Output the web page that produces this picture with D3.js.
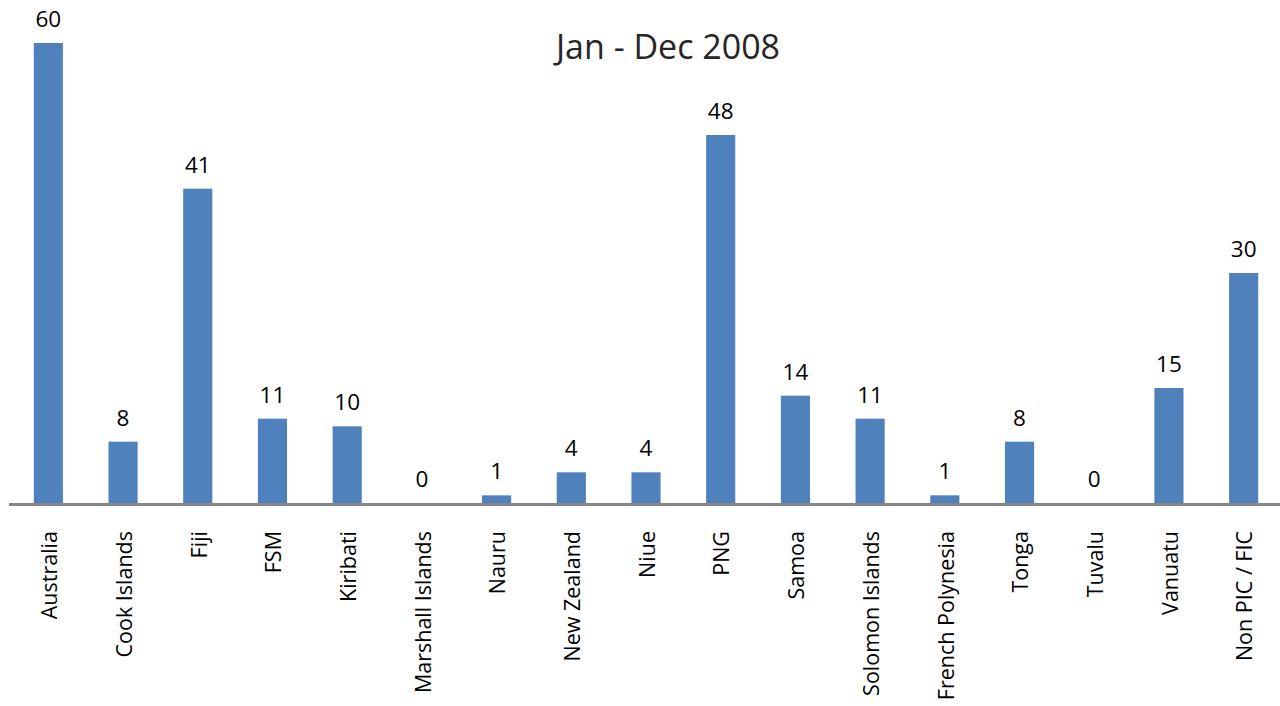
<!DOCTYPE html>
<html>
<head>
<meta charset="utf-8">
<script src="https://cdn.jsdelivr.net/npm/d3@7"></script>
<style>
  body { margin: 0; background: #fff; }
  svg { display: block; font-family: "Open Sans", sans-serif; }
</style>
</head>
<body>
<div id="chart"></div>
<script>
"use strict";

var title = "Jan - Dec 2008";

var countries = [
    "Australia", "Cook Islands", "Fiji", "FSM", "Kiribati", "Marshall Islands",
    "Nauru", "New Zealand", "Niue", "PNG", "Samoa", "Solomon Islands",
    "French Polynesia", "Tonga", "Tuvalu", "Vanuatu", "Non PIC / FIC"
];

var counts = [60, 8, 41, 11, 10, 0, 1, 4, 4, 48, 14, 11, 1, 8, 0, 15, 30];

var data = countries.map((c, i) => ({ name: c, value: counts[i] }));

var width = 1280, height = 706;
var baseline = 503;

var svg = d3.select("#chart")
    .append("svg")
    .attr("width", width)
    .attr("height", height);

// scales
var x = d3.scaleBand()
    .domain(countries)
    .range([11, 1281])
    .paddingInner(0.61)
    .paddingOuter(0.305);

var y = d3.scaleLinear()
    .domain([0, 60])
    .range([baseline, 43]);

// title
svg.append("text")
    .attr("x", 668)
    .attr("y", 59)
    .attr("text-anchor", "middle")
    .style("font-size", "34px")
    .style("fill", "#262626")
    .text(title);

// bars
svg.selectAll("rect.bar")
    .data(data)
    .join("rect")
    .attr("class", "bar")
    .attr("x", d => x(d.name))
    .attr("y", d => y(d.value))
    .attr("width", x.bandwidth())
    .attr("height", d => baseline - y(d.value))
    .attr("fill", "#4F81BD");

// value labels
svg.selectAll("text.val")
    .data(data)
    .join("text")
    .attr("class", "val")
    .attr("x", d => x(d.name) + x.bandwidth() / 2)
    .attr("y", d => y(d.value) - 16)
    .attr("text-anchor", "middle")
    .style("font-size", "22.5px")
    .style("fill", "#000")
    .text(d => d.value);

// axis line
svg.append("line")
    .attr("x1", 9)
    .attr("x2", width)
    .attr("y1", baseline + 1.5)
    .attr("y2", baseline + 1.5)
    .attr("stroke", "#868686")
    .attr("stroke-width", 3);

// category labels (rotated)
svg.selectAll("text.cat")
    .data(countries)
    .join("text")
    .attr("class", "cat")
    .attr("transform", d => `translate(${x(d) + x.bandwidth() / 2 + 1},531) rotate(-90)`)
    .attr("text-anchor", "end")
    .attr("dy", "0.36em")
    .style("font-size", "21.5px")
    .style("fill", "#000")
    .text(d => d);
</script>
</body>
</html>
